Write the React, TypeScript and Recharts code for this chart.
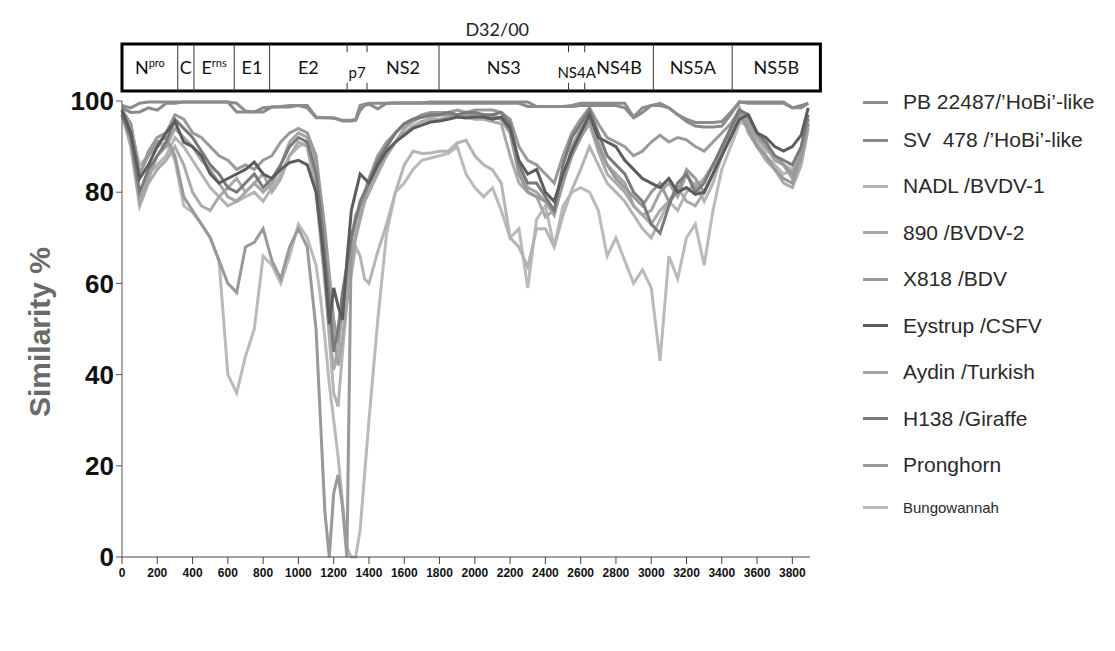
import { LineChart, Line, XAxis, YAxis, ReferenceArea, ReferenceLine, ReferenceDot } from "recharts";

// genome position (aa) of each sample point, denser around the E2/p7 dip
const positions = [
  0, 50, 100, 150, 200, 250, 300, 350, 400, 450, 500, 550, 600, 650, 700, 750, 800, 850, 900, 950, 1000, 1050, 1100,
  1125, 1150, 1175, 1200, 1225, 1250, 1275, 1300, 1325, 1350, 1375,
  1400, 1450, 1500, 1550, 1600, 1650, 1700, 1750, 1800, 1850,
  1900, 1950, 2000, 2050, 2100, 2150, 2200, 2250, 2300, 2350,
  2400, 2450, 2500, 2550, 2600, 2650, 2700, 2750, 2800, 2850,
  2900, 2950, 3000, 3050, 3100, 3150, 3200, 3250, 3300, 3350,
  3400, 3450, 3500, 3550, 3600, 3650, 3700, 3750, 3800, 3850,
  3890,
];

const pb22487 = [
  99, 98.5, 99.5, 99.8, 99.8, 99.8, 99.8, 99.8, 99.8, 99.8, 99.8, 99.8, 99.8, 99.5, 97.8, 97.6, 98.5, 98.7, 98.8, 99, 99, 99, 96.5,
  96.4, 96.3, 96.3, 96.3, 96.0, 95.8, 95.8, 95.8, 96, 99, 99.3,
  99.5, 99.5, 99.5, 99.6, 99.6, 99.6, 99.6, 99.8, 99.8, 99.8,
  99.8, 99.8, 99.8, 99.8, 99.8, 99.8, 99.8, 99.8, 99.8, 98.8,
  98.8, 98.8, 98.8, 99, 99.5, 99.5, 99.5, 99.5, 99.5, 99.5,
  96.5, 98.5, 99, 99.5, 98.5, 97, 96, 95.3, 95.3, 95.3,
  95.5, 97.5, 99.8, 99.8, 99.8, 99.8, 99.8, 99.8, 98.5, 98.5,
  99.5,
];
const sv478 = [
  98.5, 97.5, 97.6, 98.5, 98, 99.5, 99.5, 99.8, 99.8, 99.8, 99.8, 99.8, 99.8, 97.6, 97.6, 97.6, 97.6, 98.7, 98.7, 98.7, 99, 98.5, 96.3,
  96.3, 96.3, 96.3, 96.2, 96.0, 95.6, 95.6, 95.6, 95.8, 98, 99,
  99.3, 98.3, 99.5, 99.5, 99.5, 99.5, 99.5, 99.5, 99.5, 99.5,
  99.5, 99.5, 99.5, 99.5, 99.5, 99.5, 99.5, 99.5, 98.8, 98.8,
  98.8, 98.8, 98.8, 98.8, 99, 99, 99, 99, 99, 98.5,
  96.3, 97.5, 99, 99, 98.5, 97, 95.5, 94.5, 94.3, 94.3,
  94.5, 97, 99.8, 99.5, 99.5, 99.5, 99.5, 99.5, 98.5, 99,
  99.5,
];
const nadl = [
  97, 92, 80, 84, 86, 88, 92, 90, 87, 84, 81, 79, 77, 78, 79, 80, 78, 81, 84, 88, 90, 91, 82,
  72, 62, 48, 36, 33, 45, 56, 62, 68, 66, 61,
  60, 67, 73, 80, 86, 89, 88.5, 88.6, 89, 89,
  90.8, 91.4, 88, 86, 84.9, 82, 70, 68, 63.6, 72,
  72, 68, 75, 80.5, 85, 90, 86, 82, 80, 78,
  75, 72, 70, 74, 78, 76, 80, 82, 78, 82,
  88, 92, 96, 94, 91, 88, 86, 84, 85, 87,
  95,
];
const bvdv2 = [
  97, 90, 77, 82, 85, 87, 90, 86, 80, 77, 76, 79, 81, 83, 80, 82, 84, 80, 83, 88, 91, 90, 80,
  70, 60, 50, 41, 46, 54, 60, 66, 71, 75, 78,
  80, 84, 88, 91, 93, 94.5, 95.5, 96, 96, 96.5,
  96.5, 96.5, 96, 96, 95.5, 95, 88, 82, 80, 79,
  74.6, 76, 83, 88, 92, 95, 89, 84, 82, 80,
  77, 75, 73, 76, 78, 81, 78, 77, 80, 84,
  90, 94, 98.5, 93, 90, 87, 85, 82, 81, 86,
  94,
];
const x818 = [
  98, 95, 84, 89, 92, 93, 97, 96, 93, 92, 90, 88, 87, 85, 86, 85, 87, 88, 91, 93, 94, 93, 88,
  80, 72, 62, 52, 47, 55, 62, 70, 74, 77, 80,
  83, 88, 91, 93, 95, 96, 97, 97.5, 97.5, 97.5,
  98, 97.5, 98, 98, 98, 97.5, 96, 90, 87, 86,
  84, 82, 88, 93, 96, 98.5, 95, 92, 91, 90,
  88, 89, 91, 92.5, 91, 92, 91.5, 90, 89, 91,
  93, 95, 98, 96, 93, 90, 88, 86, 84, 88,
  96,
];
const eystrup = [
  98, 93, 83, 86, 90, 93, 95.5, 91, 90, 88, 84, 82, 83, 84, 85, 86.6, 84, 83, 85, 86.5, 87, 86, 80,
  72, 63, 51, 59, 55, 52, 65, 76, 80, 84, 83,
  82, 86, 89, 91, 92.5, 94, 94.7, 95.4, 95.6, 96,
  96.5, 96.3, 96.5, 96.5, 96, 96.5, 94, 87, 84, 85,
  80, 78, 84, 89, 93, 97, 92, 91, 90, 87,
  85, 83, 82, 81, 83, 80, 81, 79.5, 80, 84,
  88, 92, 96, 97, 93, 92, 90, 89, 90, 92.5,
  98.5,
];
const aydin = [
  98, 91, 78, 83, 88, 90, 94, 92, 90, 87, 85, 82, 79, 78, 80, 82, 80, 82, 86, 91, 93, 92, 86,
  78, 68, 58, 48, 42, 48, 56, 64, 70, 74, 78,
  80, 85, 88, 91, 94, 95.5, 96.5, 96.5, 97, 97,
  97, 97, 97.5, 96.5, 97, 96, 93, 85, 81, 80,
  78, 75, 82, 90, 94, 97, 91, 86, 84, 82,
  77, 75, 76, 80, 82, 79, 84, 81, 83, 86,
  89, 93, 97, 95, 92, 90, 87, 86, 83, 89,
  96,
];
const h138 = [
  97, 92, 80, 85, 88, 91, 96, 94, 92, 89, 86, 84, 81, 80, 82, 84, 81, 83, 86, 90, 92, 91, 84,
  76, 66, 56, 45, 50, 58, 64, 70, 74, 78, 80,
  82, 87, 90, 93, 95, 96, 96.5, 97, 97, 97.5,
  97, 97.5, 97.5, 97, 97, 97.5, 95, 86, 82, 82,
  79, 76, 86, 92, 95, 98, 93, 88, 86, 84,
  80, 78, 73, 71, 77, 82, 84, 80, 82, 86,
  90, 94, 98, 97, 93, 91, 88, 87, 86, 90,
  97,
];
const pronghorn = [
  98, 95, 84, 88, 91, 92, 88, 79, 76, 73, 70, 65, 60, 58, 68, 69, 72, 65, 61, 68, 72, 68, 50,
  30, 10, 0, 14, 18, 11, 0, 70, 75, 77, 79,
  82, 86, 90, 93, 95, 96, 96.5, 97, 97, 97,
  97, 97, 97, 97, 96.5, 96, 93, 84, 80, 79,
  78, 76, 82, 88, 92, 96, 90, 86, 83, 81,
  79, 77, 80, 82, 78, 80, 85, 83, 80, 84,
  88, 93, 97, 94, 90, 88, 85, 83, 82, 88,
  95,
];
const bungowannah = [
  97, 94, 86, 88, 90, 91, 87, 77, 75.6, 73, 70, 65, 40, 36, 44, 50, 66, 64, 60, 66, 73, 70, 64,
  57, 48, 38, 30, 22, 12, 2, 0, 0, 6, 18,
  30, 52, 71, 80, 82, 85, 87, 87.5, 88, 88.5,
  90, 84, 81, 79, 81, 76, 70, 72, 59, 74,
  77, 68, 77, 80, 81, 80, 76, 66, 70, 65,
  60, 63, 59, 43, 66, 61, 70, 73, 64, 76,
  85, 90, 95, 96, 92, 89, 88, 86, 85, 89,
  95,
];

const xTicks = [0, 200, 400, 600, 800, 1000, 1200, 1400, 1600, 1800, 2000, 2200, 2400, 2600, 2800, 3000, 3200, 3400, 3600, 3800];
const yTicks = [0, 20, 40, 60, 80, 100];

// genome map of D32/00 (aa positions)
const genes = [
  { name: "N", sup: "pro", start: 0, end: 316 },
  { name: "C", start: 316, end: 408 },
  { name: "E", sup: "rns", start: 408, end: 636 },
  { name: "E1", start: 636, end: 837 },
  { name: "E2", start: 837, end: 1276 },
  { name: "p7", start: 1276, end: 1389 },
  { name: "NS2", start: 1389, end: 1797 },
  { name: "NS3", start: 1797, end: 2531 },
  { name: "NS4A", start: 2531, end: 2623 },
  { name: "NS4B", start: 2623, end: 3012 },
  { name: "NS5A", start: 3012, end: 3459 },
  { name: "NS5B", start: 3459, end: 3959 },
];
const minorGenes = ["p7", "NS4A"];
const mapBottom = 102.2;
const mapTop = 112.5;

const series = [
  { key: "bungowannah", label: "Bungowannah", values: bungowannah, color: "#bababa" },
  { key: "nadl", label: "NADL /BVDV-1", values: nadl, color: "#b4b4b4" },
  { key: "bvdv2", label: "890 /BVDV-2", values: bvdv2, color: "#aaaaaa" },
  { key: "aydin", label: "Aydin /Turkish", values: aydin, color: "#a4a4a4" },
  { key: "pronghorn", label: "Pronghorn", values: pronghorn, color: "#999999" },
  { key: "x818", label: "X818 /BDV", values: x818, color: "#9a9a9a" },
  { key: "h138", label: "H138 /Giraffe", values: h138, color: "#7a7a7a" },
  { key: "eystrup", label: "Eystrup /CSFV", values: eystrup, color: "#5c5c5c" },
  { key: "sv478", label: "SV  478 /’HoBi’-like", values: sv478, color: "#8a8a8a" },
  { key: "pb22487", label: "PB 22487/’HoBi’-like", values: pb22487, color: "#8c8c8c" },
];
const legendOrder = ["pb22487", "sv478", "nadl", "bvdv2", "x818", "eystrup", "aydin", "h138", "pronghorn", "bungowannah"];

const rows = positions.map((pos, i) => {
  const r: Record<string, number> = { pos };
  series.forEach((s) => (r[s.key] = s.values[i]));
  return r;
});

const mapFont = "Lato, 'Open Sans', sans-serif";
const axisFont = "'Liberation Sans', Arial, sans-serif";

const geneLabel = (g: any) => (props: any) => {
  const { x, y, width, height } = props.viewBox;
  const minor = minorGenes.includes(g.name);
  return (
    <text
      x={x + width / 2}
      y={y + height / 2 + (minor ? 11 : 7)}
      textAnchor="middle"
      fontFamily={mapFont}
      fontSize={minor ? 15 : 18}
      fill="#111"
    >
      {g.name}
      {g.sup && (
        <tspan fontSize={11} dy={-7}>
          {g.sup}
        </tspan>
      )}
    </text>
  );
};

function Legend() {
  return (
    <div style={{ position: "absolute", left: 863, top: 83, fontFamily: axisFont, color: "#2a2a2a" }}>
      {legendOrder.map((k, i) => {
        const s = series.find((x) => x.key === k)!;
        const small = k === "bungowannah";
        return (
          <div
            key={k}
            style={{
              display: "flex",
              alignItems: "center",
              height: i < 2 || small ? 38 : 46.5,
              marginTop: i === 2 ? 4 : 0,
            }}
          >
            <div style={{ width: 25, height: 3, background: s.color, marginRight: 15 }} />
            <span style={{ fontSize: small ? 15 : 21, whiteSpace: "pre" }}>{s.label}</span>
          </div>
        );
      })}
    </div>
  );
}

export default function App() {
  return (
    <div style={{ position: "absolute", left: 0, top: 0, width: 1115, height: 651, background: "#fff", overflow: "hidden" }}>
      <div
        style={{
          position: "absolute",
          left: 40,
          top: 332,
          transform: "translate(-50%, -50%) rotate(-90deg)",
          whiteSpace: "nowrap",
          fontFamily: axisFont,
          fontWeight: 700,
          fontSize: 30,
          color: "#6a6a6a",
        }}
      >
        Similarity %
      </div>
      <div style={{ position: "absolute", left: 0, top: 0 }}>
        <LineChart width={860} height={651} data={rows} margin={{ top: 101, right: 50, bottom: 64, left: 42 }}>
          <XAxis
            dataKey="pos"
            type="number"
            domain={[0, 3900]}
            ticks={xTicks}
            interval={0}
            height={30}
            tickSize={7}
            tickMargin={4}
            stroke="#444"
            tick={{ fill: "#111", fontSize: 12, fontWeight: 700, fontFamily: axisFont }}
          />
          <YAxis
            type="number"
            domain={[0, 100]}
            ticks={yTicks}
            width={80}
            tickSize={6}
            tickMargin={2}
            stroke="#555"
            tick={{ fill: "#111", fontSize: 26, fontWeight: 700, fontFamily: axisFont }}
          />
          {series.map((s) => (
            <Line
              key={s.key}
              dataKey={s.key}
              name={s.label}
              type="linear"
              stroke={s.color}
              strokeWidth={3}
              dot={false}
              isAnimationActive={false}
            />
          ))}
          <ReferenceArea
            x1={0}
            x2={3959}
            y1={mapBottom}
            y2={mapTop}
            ifOverflow="visible"
            fill="#fff"
            fillOpacity={1}
            stroke="#000"
            strokeWidth={3}
          />
          {genes.map((g) => (
            <ReferenceArea
              key={g.name}
              x1={g.start}
              x2={g.end}
              y1={mapBottom}
              y2={mapTop}
              ifOverflow="visible"
              fill="none"
              stroke="none"
              label={geneLabel(g)}
            />
          ))}
          {genes.slice(1).map((g) =>
            minorGenes.includes(g.name) || minorGenes.includes(genes[genes.indexOf(g) - 1].name) ? (
              [
                <ReferenceLine
                  key={g.name + "b"}
                  segment={[{ x: g.start, y: mapBottom }, { x: g.start, y: mapBottom + 1.8 }]}
                  ifOverflow="visible"
                  stroke="#333"
                  strokeWidth={1}
                />,
                <ReferenceLine
                  key={g.name + "t"}
                  segment={[{ x: g.start, y: mapTop - 1.8 }, { x: g.start, y: mapTop }]}
                  ifOverflow="visible"
                  stroke="#333"
                  strokeWidth={1}
                />,
              ]
            ) : (
              <ReferenceLine
                key={g.name}
                segment={[{ x: g.start, y: mapBottom }, { x: g.start, y: mapTop }]}
                ifOverflow="visible"
                stroke="#333"
                strokeWidth={1}
              />
            )
          )}
          <ReferenceDot
            x={2127}
            y={115.6}
            r={0}
            ifOverflow="visible"
            fill="none"
            stroke="none"
            label={(p: any) => (
              <text
                x={p.viewBox.x}
                y={p.viewBox.y + 6}
                textAnchor="middle"
                fontFamily={mapFont}
                fontSize={18}
                fill="#222"
              >
                D32/00
              </text>
            )}
          />
        </LineChart>
      </div>
      <Legend />
    </div>
  );
}
